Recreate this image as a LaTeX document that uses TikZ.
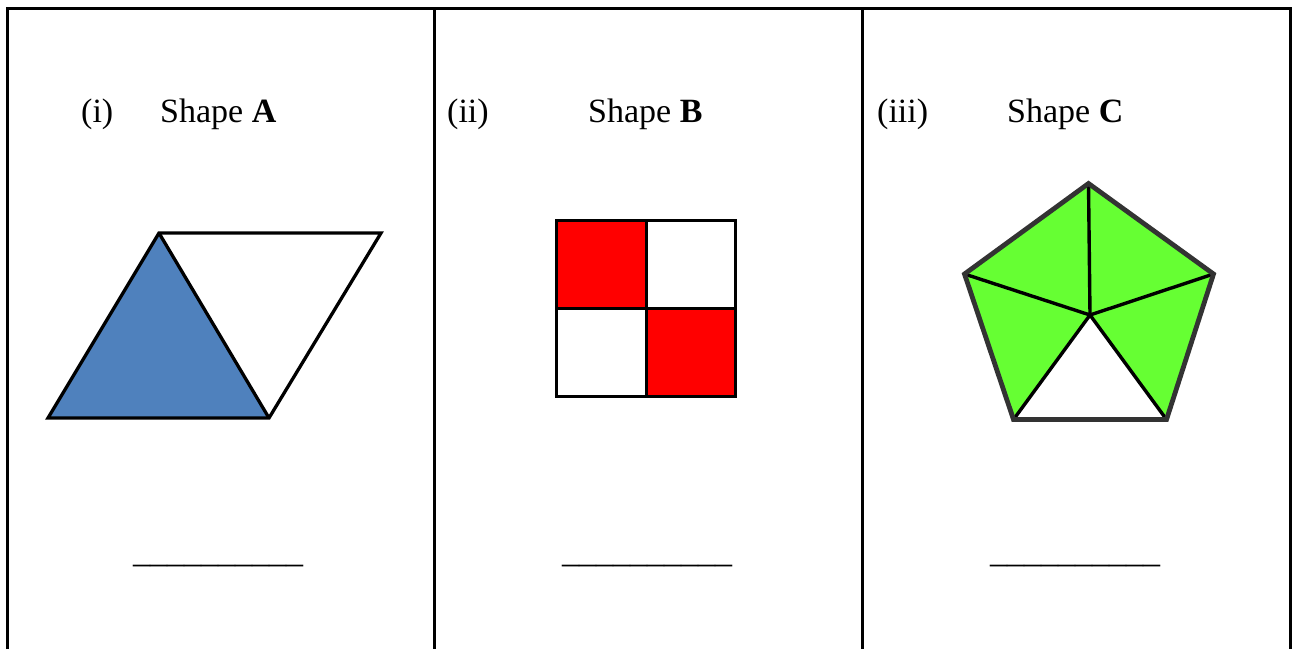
\documentclass[tikz,border=0pt]{standalone}
\usepackage{fontspec}
\setmainfont{Liberation Serif}
\begin{document}
\begin{tikzpicture}[x=1pt,y=-1pt,
  frame/.style={line width=3pt,black},
  lab/.style={anchor=base west,inner sep=0pt,font=\fontsize{34}{40}\selectfont},
  blank/.style={anchor=base west,inner sep=0pt,font=\fontsize{34}{40}\selectfont},
  edgeA/.style={line width=3.3pt,line join=miter},
  edgeB/.style={line width=3pt,line join=miter},
  edgeC/.style={line width=3.4pt,line join=round},
  rimC/.style={line width=4.8pt,draw=black!80,line join=miter}]
\definecolor{shapeblue}{HTML}{4F81BD}
\definecolor{shapered}{HTML}{FF0000}
\definecolor{shapegreen}{HTML}{66FF33}
\useasboundingbox (0,0) rectangle (1292,649);
\fill[white] (0,0) rectangle (1292,649);
% frame
\coordinate (tl) at (7,8);
\coordinate (tr) at (1290.5,8);
\draw[frame] (7,649) -- (tl) -- (tr) -- (1290.5,649);
\draw[frame] (434.5,8) -- (434.5,649);
\draw[frame] (862.5,8) -- (862.5,649);
% labels
\node[lab] (la) at (81,122) {(i)};
\node[lab] (sa) at (160,122) {Shape \textbf{A}};
\node[lab] (lb) at (447,122) {(ii)};
\node[lab] (sb) at (588,122) {Shape \textbf{B}};
\node[lab] (lc) at (877,122) {(iii)};
\node[lab] (sc) at (1007,122) {Shape \textbf{C}};
% shape A
\coordinate (a1) at (48,418);
\coordinate (a2) at (159,233);
\coordinate (a3) at (269,418);
\coordinate (a4) at (381,233);
\fill[shapeblue] (a1) -- (a2) -- (a3) -- cycle;
\draw[edgeA] (a1) -- (a2) -- (a4) -- (a3) -- cycle;
\draw[edgeA] (a2) -- (a3);
% shape B
\fill[shapered] (556,220) rectangle (646,308);
\fill[shapered] (646,308) rectangle (735,396);
\draw[edgeB] (556,220) rectangle (735,396);
\draw[edgeB] (646,220) -- (646,396);
\draw[edgeB] (556,308) -- (735,308);
% shape C
\coordinate (ct) at (1088.5,183.5);
\coordinate (cl) at (964.5,274);
\coordinate (cr) at (1213.5,274);
\coordinate (cbl) at (1013.5,419.5);
\coordinate (cbr) at (1166.5,419.5);
\coordinate (cc) at (1090,315);
\fill[shapegreen] (ct) -- (cr) -- (cbr) -- (cc) -- (cbl) -- (cl) -- cycle;
\draw[edgeC] (ct) -- (cc) -- (cl);
\draw[edgeC] (cr) -- (cc);
\draw[edgeC] (cbl) -- (cc) -- (cbr);
\draw[rimC] (ct) -- (cr) -- (cbr) -- (cbl) -- (cl) -- cycle;
% answer blanks
\node[blank] (ba) at (133,562) {\_\_\_\_\_\_\_\_\_\_};
\node[blank] (bb) at (562,562) {\_\_\_\_\_\_\_\_\_\_};
\node[blank] (bc) at (990,562) {\_\_\_\_\_\_\_\_\_\_};
\end{tikzpicture}
\end{document}
